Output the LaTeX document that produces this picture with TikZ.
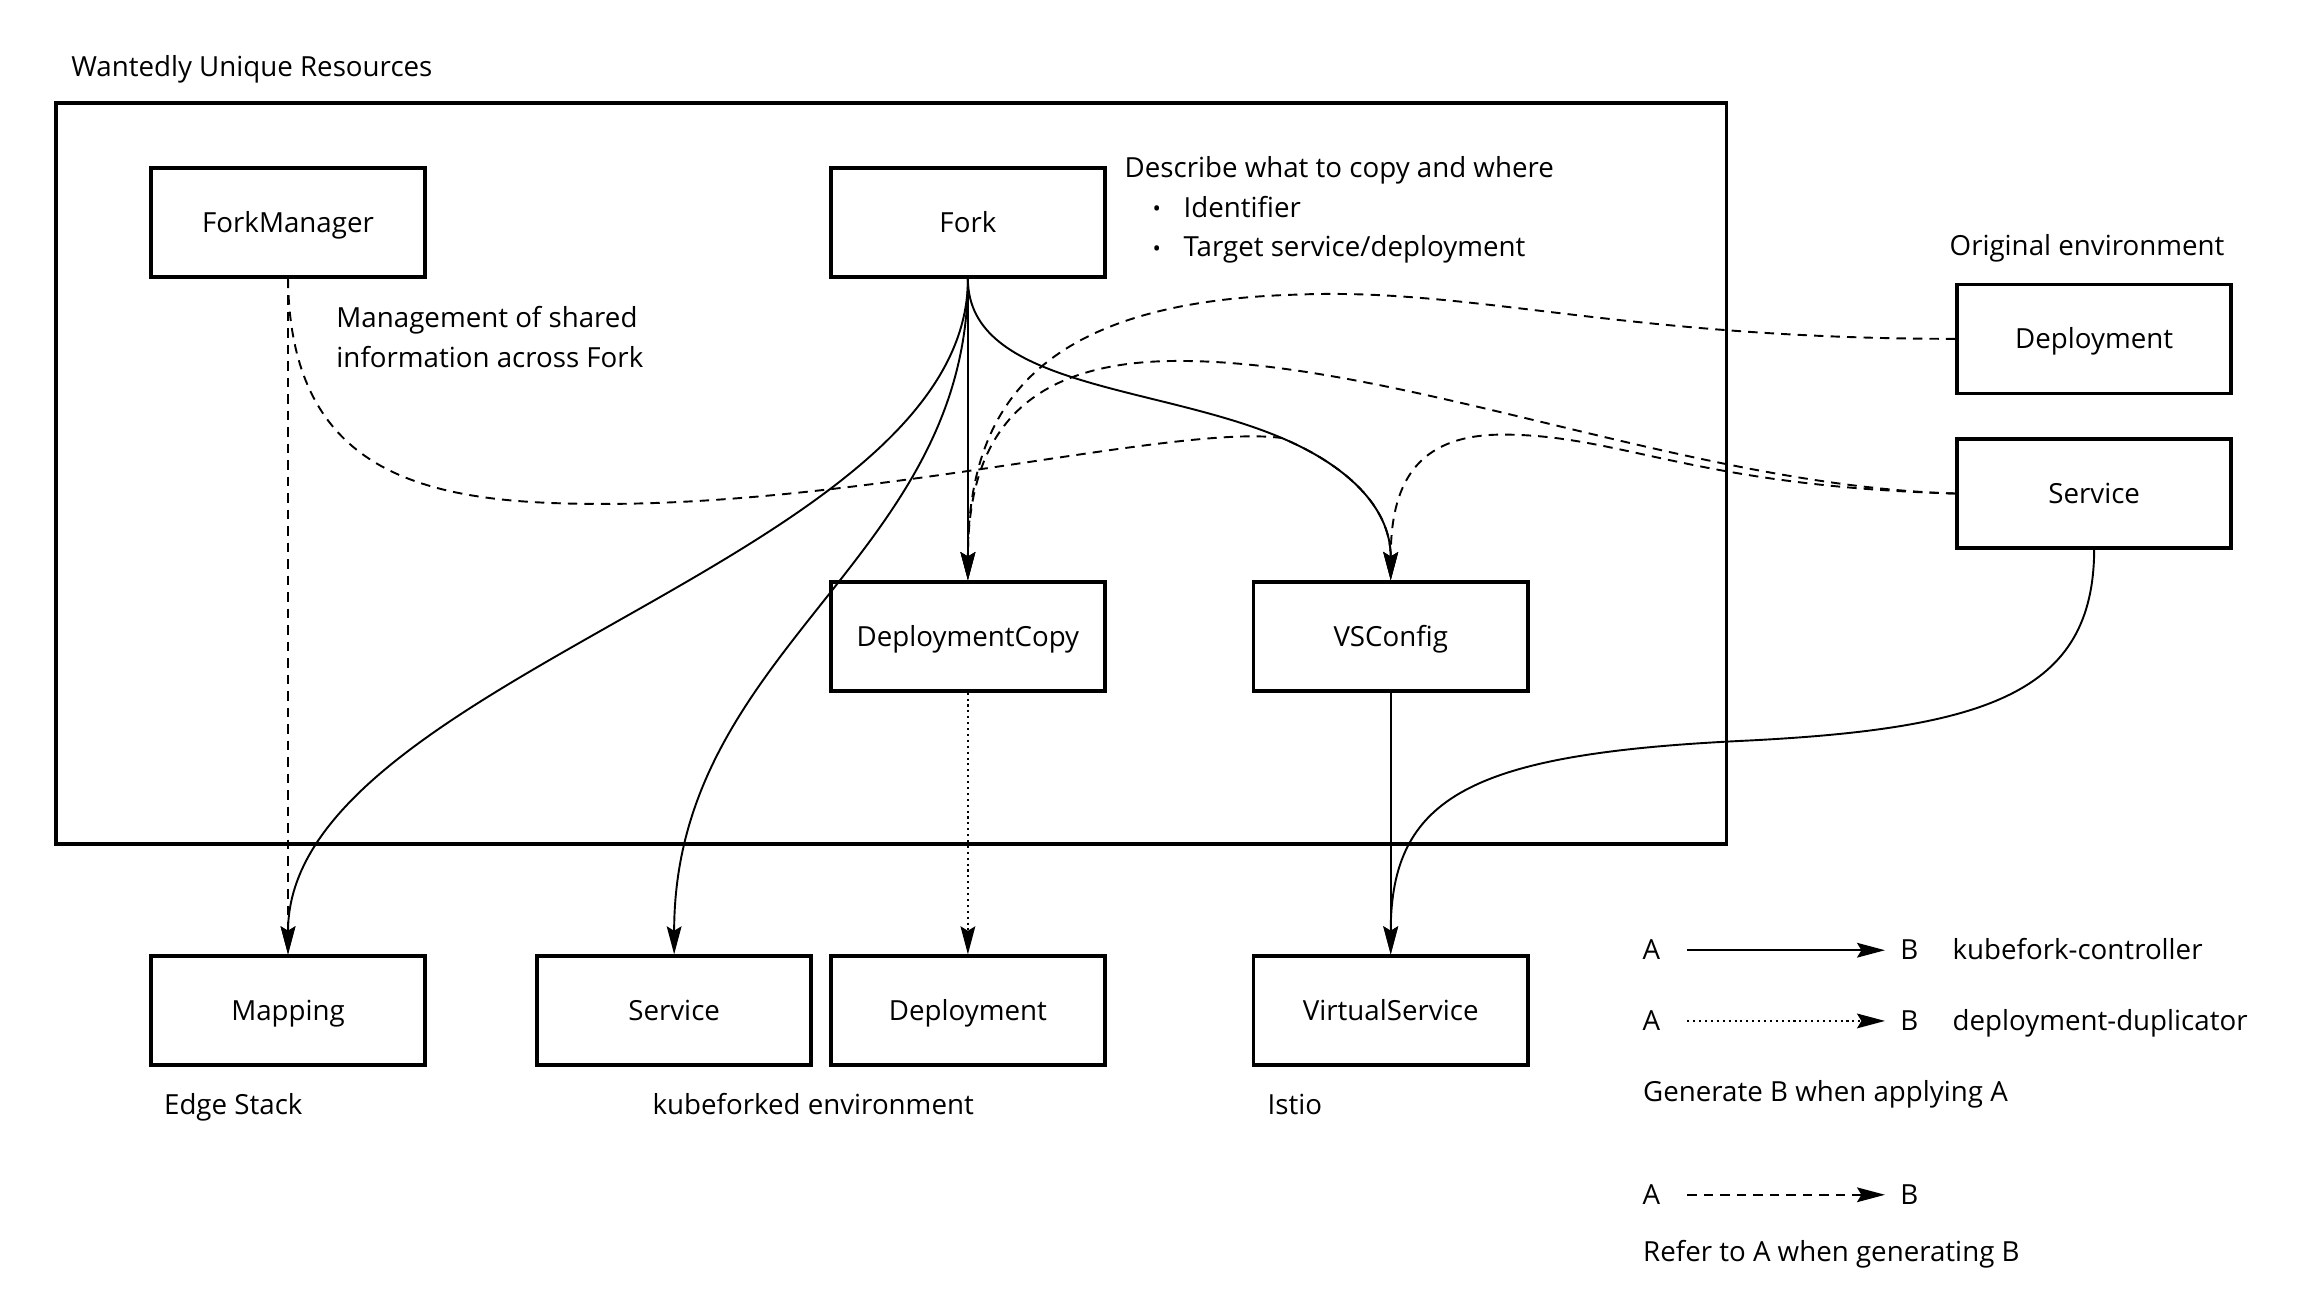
\documentclass[tikz,border=0pt]{standalone}
\usepackage{fontspec}
\setmainfont{Open Sans}
\usepackage{tikz}
\usetikzlibrary{arrows.meta,positioning}
\tikzset{resource/.style={
    draw, line width=1.2pt, fill=white,
    minimum width=93pt, minimum height=37pt,
    inner sep=0pt, anchor=center,
    text height=0.8em, text depth=0.14em,
    font=\fontsize{9.4pt}{13.5pt}\selectfont
  },
  caption/.style={
    inner sep=0pt, text height=0.8em, text depth=0.14em,
    font=\fontsize{9.4pt}{13.5pt}\selectfont
  },
  remark/.style={
    inner sep=0pt, align=left,
    font=\fontsize{9.4pt}{13.5pt}\selectfont
  },
  generate/.style={line width=0.65pt, -{Stealth[length=9.5pt,width=5pt,inset=1.5pt]}},
  duplicate/.style={generate, dash pattern=on 0.7pt off 1.3pt},
  refer/.style={generate, dash pattern=on 3.2pt off 2.4pt}
}
\newcommand{\itembullet}{\hspace*{9.5pt}\makebox[10.5pt][l]{\raisebox{0.3pt}{\fontsize{7.5pt}{7.5pt}\selectfont •}}}

\begin{document}
\begin{tikzpicture}[x=0.5pt, y=-0.5pt]
    \useasboundingbox (0,0) rectangle (1568,882);
    \node[draw, line width=1.2pt, minimum width=567pt, minimum height=251.5pt] (wur) at (605,321.5) {};
    \node[caption, anchor=west] (wurlabel) at (48,45) {Wantedly Unique Resources};

    \node[resource] (fm) at (195.5,151) {ForkManager};
    \node[resource] (fork) at (657,151) {Fork};
    \node[resource] (dcopy) at (657,432) {DeploymentCopy};
    \node[resource] (vsconf) at (944,432) {VSConfig};
    \node[resource] (origdep) at (1421.5,230) {Deployment};
    \node[resource] (origsvc) at (1421.5,335) {Service};
    \node[resource] (mapping) at (195.5,686) {Mapping};
    \node[resource] (kdep) at (657,686) {Deployment};
    \node[resource, left=5.5pt of kdep] (ksvc) {Service};
    \node[resource] (vsvc) at (944,686) {VirtualService};

    \node[remark, anchor=west] (forknote) at (763,142.5) {Describe what to copy and where\\
        \itembullet Identifier\\
        \itembullet Target service/deployment};
    \node[remark, anchor=west] (fmnote) at (228,229) {Management of shared\\information across Fork};
    \node[caption, anchor=west] (origlabel) at (1323,167) {Original environment};
    \node[caption, anchor=west] (edgelabel) at (111,750) {Edge Stack};
    \node[caption] (klabel) at (552,750) {kubeforked environment};
    \node[caption, anchor=west] (istiolabel) at (860,750) {Istio};

    \coordinate (vsjoin) at (870,297.3);
    \draw[generate] (fork) -- (dcopy);
    \draw[generate] (fork.south) .. controls (657,263) and (785,261) .. (vsjoin)
        .. controls (912,315) and (944,343) .. (vsconf.north);
    \draw[generate] (fork.south) .. controls +(0,191) and +(0,-188) .. (mapping.north);
    \draw[generate] (fork.south) .. controls +(0,191) and +(0,-208) .. (ksvc.north);
    \draw[refer] (fm) -- (mapping);
    \draw[refer] (fm.south) .. controls (197,330) and (300,343) .. (420,342)
        .. controls (600,340) and (800,288) .. (vsjoin)
        .. controls (912,315) and (944,343) .. (vsconf.north);
    \draw[refer] (origdep.west) .. controls (1100,230) and (1000,195) .. (880,200)
        .. controls (700,205) and (657,280) .. (dcopy.north);
    \draw[refer] (origsvc.west) .. controls (1150,330) and (950,245) .. (800,245)
        .. controls (700,245) and (657,290) .. (dcopy.north);
    \draw[refer] (origsvc.west) .. controls (1150,330) and (1100,295) .. (1020,295)
        .. controls (960,295) and (944,330) .. (vsconf.north);
    \draw[duplicate] (dcopy) -- (kdep);
    \draw[generate] (vsconf) -- (vsvc);
    \draw[generate] (origsvc.south) .. controls (1421,470) and (1350,495) .. (1180,503)
        .. controls (1000,512) and (944,540) .. (vsvc.north);

    \node[caption] (lega1) at (1121,645) {A};
    \node[caption] (legb1) at (1296,645) {B};
    \node[caption, anchor=west] (legt1) at (1325,645) {kubefork-controller};
    \node[caption] (lega2) at (1121,693) {A};
    \node[caption] (legb2) at (1296,693) {B};
    \node[caption, anchor=west] (legt2) at (1325,693) {deployment-duplicator};
    \node[caption, anchor=west] (legt3) at (1115,741) {Generate B when applying A};
    \node[caption] (lega3) at (1121,811) {A};
    \node[caption] (legb3) at (1296,811) {B};
    \node[caption, anchor=west] (legt4) at (1115,850) {Refer to A when generating B};
    \draw[generate, shorten <=9pt, shorten >=5pt] (lega1) -- (legb1);
    \draw[duplicate, shorten <=9pt, shorten >=5pt] (lega2) -- (legb2);
    \draw[refer, shorten <=9pt, shorten >=5pt] (lega3) -- (legb3);
\end{tikzpicture}
\end{document}
